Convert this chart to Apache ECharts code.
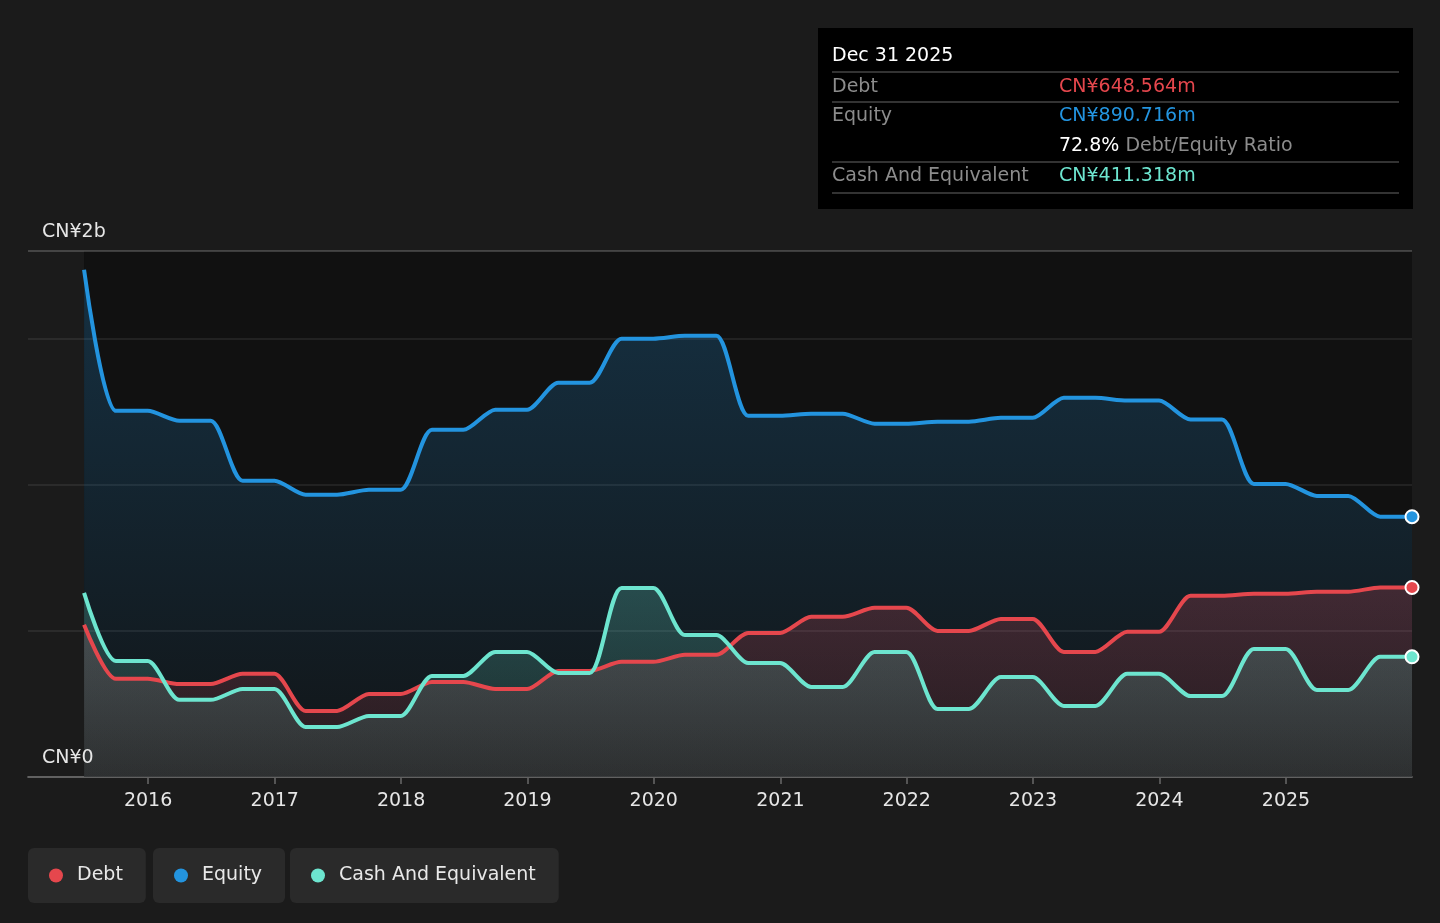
<!DOCTYPE html>
<html>
<head>
<meta charset="utf-8">
<title>Debt to Equity History</title>
<script src="https://cdn.jsdelivr.net/npm/echarts@6/dist/echarts.min.js"></script>
<style>
  html, body { margin: 0; padding: 0; background: #1b1b1b; }
  #chart { width: 1440px; height: 923px; }
</style>
</head>
<body>
<div id="chart"></div>
<script>
// quarter ends, Jun 2015 .. Dec 2025
var dates = [
  '2015-06-30', '2015-09-30', '2015-12-31',
  '2016-03-31', '2016-06-30', '2016-09-30', '2016-12-31',
  '2017-03-31', '2017-06-30', '2017-09-30', '2017-12-31',
  '2018-03-31', '2018-06-30', '2018-09-30', '2018-12-31',
  '2019-03-31', '2019-06-30', '2019-09-30', '2019-12-31',
  '2020-03-31', '2020-06-30', '2020-09-30', '2020-12-31',
  '2021-03-31', '2021-06-30', '2021-09-30', '2021-12-31',
  '2022-03-31', '2022-06-30', '2022-09-30', '2022-12-31',
  '2023-03-31', '2023-06-30', '2023-09-30', '2023-12-31',
  '2024-03-31', '2024-06-30', '2024-09-30', '2024-12-31',
  '2025-03-31', '2025-06-30', '2025-09-30', '2025-12-31'
];

// values in CN¥ millions
var debt = [
  521, 336, 336, 318, 318, 353, 353, 226, 226, 284, 284,
  325, 325, 301, 301, 363, 363, 394, 394, 418, 418,
  493, 493, 548, 548, 579, 579, 500, 500, 541, 541,
  428, 428, 497, 497, 620, 620, 627, 627, 634, 634,
  648.564, 648.564
];
var equity = [
  1736, 1253, 1253, 1219, 1219, 1014, 1014, 966, 966, 983, 983,
  1188, 1188, 1257, 1257, 1349, 1349, 1500, 1500, 1510, 1510,
  1236, 1236, 1243, 1243, 1209, 1209, 1216, 1216, 1229, 1229,
  1298, 1298, 1288, 1288, 1223, 1223, 1003, 1003, 962, 962,
  890.716, 890.716
];
var cash = [
  630, 397, 397, 264, 264, 301, 301, 171, 171, 209, 209,
  346, 346, 428, 428, 356, 356, 647, 647, 486, 486,
  390, 390, 308, 308, 428, 428, 233, 233, 342, 342,
  243, 243, 353, 353, 277, 277, 438, 438, 298, 298,
  411.318, 411.318
];

var yTickLabels = { 0: 'CN¥0', 1800: 'CN¥2b' };

var FONT = 'DejaVu Sans';
var RED = '#e5474d', BLUE = '#2394df', TEAL = '#6de5cf';
var DAY = 24 * 3600 * 1000;
var last = dates.length - 1;

function pairs(vals) {
  return vals.map(function (v, i) { return [dates[i], v]; });
}
function grad(rgb, a0, a1) {
  return new echarts.graphic.LinearGradient(0, 0, 0, 1, [
    { offset: 0, color: 'rgba(' + rgb + ',' + a0 + ')' },
    { offset: 1, color: 'rgba(' + rgb + ',' + a1 + ')' }
  ]);
}
function lineSeries(name, vals, color, fill) {
  return {
    name: name,
    type: 'line',
    data: pairs(vals),
    smooth: 0.25,
    symbol: 'circle',
    showSymbol: true,
    symbolSize: function (v, p) { return p.dataIndex === last ? 13 : 0; },
    lineStyle: { color: color, width: 4 },
    itemStyle: { color: color, borderColor: '#ffffff', borderWidth: 2 },
    areaStyle: { color: fill, origin: 'start' },
    emphasis: { disabled: true }
  };
}
function money(v) {
  return 'CN¥' + v.toFixed(3) + 'm';
}
function legendBox(name, left) {
  return {
    data: [name],
    left: left,
    top: 848,
    icon: 'circle',
    itemWidth: 14,
    itemHeight: 14,
    itemStyle: { borderWidth: 0 },
    backgroundColor: '#2a2a2a',
    borderRadius: 6,
    padding: [18, 23, 18, 21],
    selectedMode: false,
    textStyle: { color: '#e8e8e8', fontSize: 19, fontFamily: FONT, lineHeight: 19, padding: [0, 0, 0, 9] }
  };
}

var chart = echarts.init(document.getElementById('chart'));

var months = ['Jan', 'Feb', 'Mar', 'Apr', 'May', 'Jun', 'Jul', 'Aug', 'Sep', 'Oct', 'Nov', 'Dec'];
var lastParts = dates[last].split('-');
var tipTitle = months[+lastParts[1] - 1] + ' ' + (+lastParts[2]) + ' ' + lastParts[0];
var ratio = (debt[last] / equity[last] * 100).toFixed(1) + '%';

function tipText(x, y, text, fill) {
  return { type: 'text', x: x, y: y, style: { text: text, fill: fill || '#8c8c8c', fontSize: 19, fontFamily: FONT, verticalAlign: 'middle' } };
}
function tipRule(y) {
  return { type: 'line', shape: { x1: 14, y1: y, x2: 581, y2: y }, style: { stroke: '#444444', lineWidth: 1.5 } };
}

var option = {
  backgroundColor: '#1b1b1b',
  animation: false,
  grid: { left: 28, right: 28, top: 251, bottom: 146 },
  legend: [
    legendBox('Debt', 28),
    legendBox('Equity', 153),
    legendBox('Cash And Equivalent', 290)
  ],
  xAxis: {
    type: 'time',
    min: '2015-01-19',
    max: '2025-12-31',
    minInterval: 365 * DAY,
    maxInterval: 366 * DAY,
    axisLine: { lineStyle: { color: '#555555', width: 2 } },
    axisTick: { show: true, length: 7, lineStyle: { color: '#555555', width: 2 } },
    axisLabel: {
      formatter: function (v) { return String(new Date(v).getFullYear()); },
      color: '#e6e6e6', fontSize: 19, fontFamily: FONT, margin: 15,
      showMinLabel: false, showMaxLabel: false
    },
    splitLine: { show: false }
  },
  yAxis: {
    type: 'value',
    min: 0,
    max: 1800,
    interval: 500,
    z: 3,
    axisLine: { show: false },
    axisTick: { show: false },
    splitLine: {
      lineStyle: {
        color: ['rgba(255,255,255,0.1)', 'rgba(255,255,255,0.1)', 'rgba(255,255,255,0.1)', 'rgba(255,255,255,0.1)', 'rgba(255,255,255,0.25)'],
        width: 1.5
      }
    },
    axisLabel: {
      inside: true,
      margin: 14,
      verticalAlign: 'bottom',
      lineHeight: 22,
      padding: [0, 0, 8, 0],
      color: '#e6e6e6', fontSize: 19, fontFamily: FONT,
      formatter: function (v) { return yTickLabels[v] || ''; }
    }
  },
  series: [
    Object.assign(lineSeries('Equity', equity, BLUE, grad('35,148,223', 0.34, 0.045)), {
      markArea: {
        silent: true,
        itemStyle: { color: '#111111' },
        data: [[{ xAxis: dates[0] }, { xAxis: dates[last] }]]
      }
    }),
    lineSeries('Debt', debt, RED, grad('222,76,92', 0.32, 0.14)),
    lineSeries('Cash And Equivalent', cash, TEAL, grad('109,229,207', 0.32, 0.15))
  ],
  graphic: [{
    type: 'group',
    x: 818,
    y: 28,
    children: [
      { type: 'rect', shape: { x: 0, y: 0, width: 595, height: 181 }, style: { fill: '#000000' } },
      { type: 'text', x: 14, y: 28, style: { text: tipTitle, fill: '#ffffff', fontSize: 19, fontFamily: FONT, verticalAlign: 'middle' } },
      tipRule(44), tipRule(74), tipRule(134), tipRule(165),
      tipText(14, 59, 'Debt'),
      tipText(241, 59, money(debt[last]), RED),
      tipText(14, 88, 'Equity'),
      tipText(241, 88, money(equity[last]), BLUE),
      {
        type: 'text', x: 241, y: 118,
        style: {
          text: '{w|' + ratio + '} {g|Debt/Equity Ratio}',
          fontSize: 19, fontFamily: FONT, verticalAlign: 'middle',
          rich: {
            w: { fill: '#ffffff', fontSize: 19, fontFamily: FONT },
            g: { fill: '#8c8c8c', fontSize: 19, fontFamily: FONT }
          }
        }
      },
      tipText(14, 148, 'Cash And Equivalent'),
      tipText(241, 148, money(cash[last]), TEAL)
    ]
  }]
};

chart.setOption(option);
</script>
</body>
</html>
